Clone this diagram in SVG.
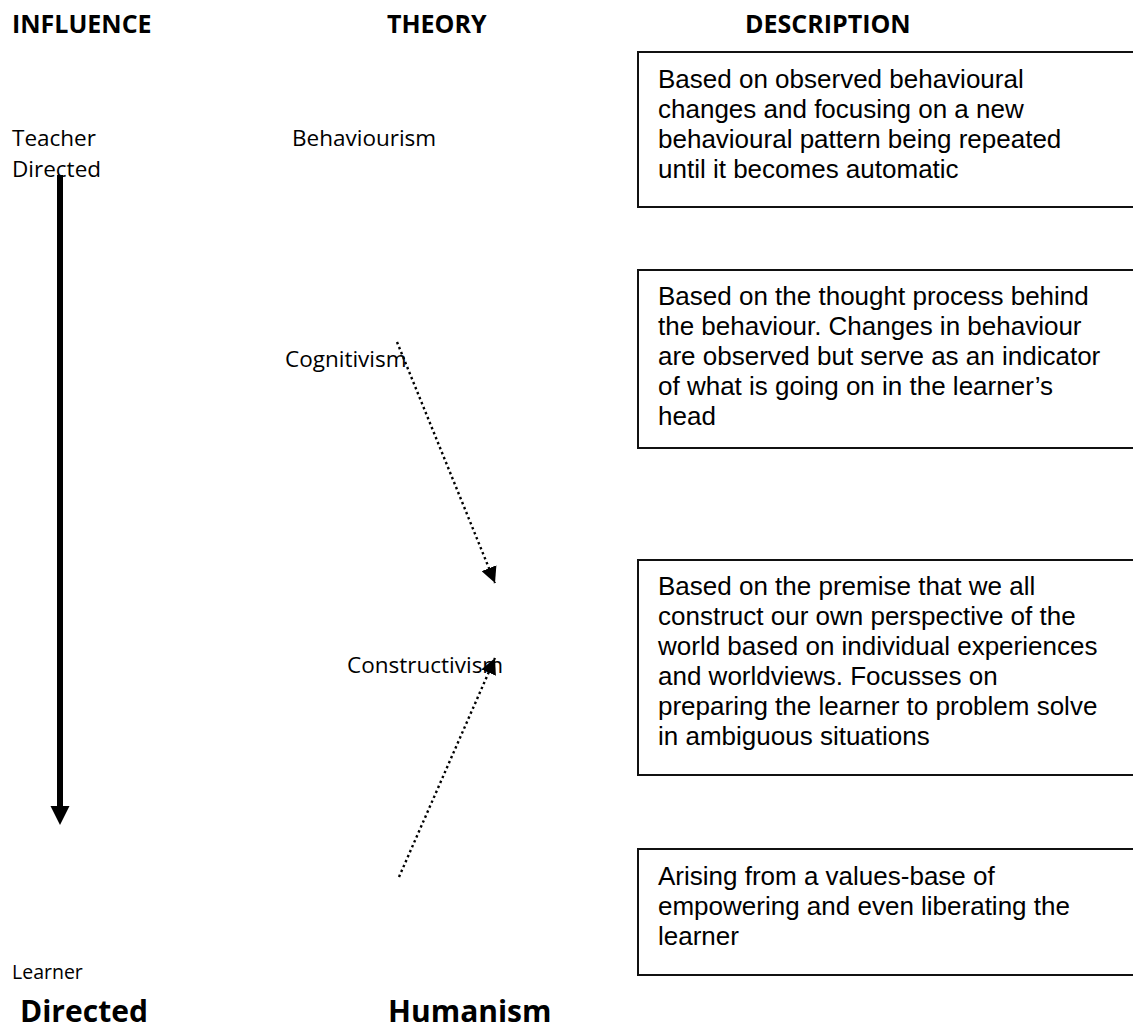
<svg xmlns="http://www.w3.org/2000/svg" width="1133" height="1031" viewBox="0 0 1133 1031">
  <style>
    .head { font-family: "Open Sans", "Liberation Sans", sans-serif; font-weight: bold; font-size: 25px; fill: #000; }
    .lbl { font-family: "Open Sans", "Liberation Sans", sans-serif; font-size: 22.5px; fill: #000; }
    .small { font-family: "Open Sans", "Liberation Sans", sans-serif; font-size: 19.5px; fill: #000; }
    .big { font-family: "Open Sans", "Liberation Sans", sans-serif; font-weight: bold; font-size: 30px; fill: #000; }
    .box { fill: #fff; stroke: #111; stroke-width: 2; }
    .desc { font-family: "Liberation Sans", Arial, sans-serif; font-size: 26px; fill: #000; }
    .dots { fill: none; stroke: #000; stroke-width: 2.4; stroke-dasharray: 2.4 3; }
    .thick { fill: none; stroke: #000; stroke-width: 6; }
  </style>
  <defs>
    <marker id="tri" markerUnits="userSpaceOnUse" markerWidth="17" markerHeight="16" refX="16" refY="8" orient="auto">
      <path d="M0,0 L16,8 L0,16 z" fill="#000"/>
    </marker>
    <marker id="bigTri" markerUnits="userSpaceOnUse" markerWidth="20" markerHeight="20" refX="1" refY="9.5" orient="auto">
      <path d="M0,0 L19,9.5 L0,19 z" fill="#000"/>
    </marker>
  </defs>
  <rect width="1133" height="1031" fill="#fff"/>

  <!-- column headings -->
  <g id="headings">
    <text class="head" x="12" y="33">INFLUENCE</text>
    <text class="head" x="387" y="33">THEORY</text>
    <text class="head" x="745" y="33">DESCRIPTION</text>
  </g>

  <!-- influence scale -->
  <g id="teacher-directed">
    <text class="lbl" x="12" y="146">Teacher</text>
    <text class="lbl" x="12" y="177">Directed</text>
  </g>
  <g id="learner-directed">
    <text class="small" x="12" y="979">Learner</text>
    <text class="big" x="20" y="1022">Directed</text>
  </g>

  <!-- theories -->
  <g id="behaviourism"><text class="lbl" x="292" y="146">Behaviourism</text></g>
  <g id="cognitivism"><text class="lbl" x="285" y="367">Cognitivism</text></g>
  <g id="constructivism"><text class="lbl" x="347" y="673">Constructivism</text></g>
  <g id="humanism"><text class="big" x="388" y="1022">Humanism</text></g>

  <!-- descriptions -->
  <g id="desc-behaviourism">
    <rect class="box" x="638" y="52" width="510" height="155"/>
    <text class="desc" x="658" y="88">Based on observed behavioural</text>
    <text class="desc" x="658" y="118">changes and focusing on a new</text>
    <text class="desc" x="658" y="148">behavioural pattern being repeated</text>
    <text class="desc" x="658" y="178">until it becomes automatic</text>
  </g>
  <g id="desc-cognitivism">
    <rect class="box" x="638" y="270" width="510" height="178"/>
    <text class="desc" x="658" y="305">Based on the thought process behind</text>
    <text class="desc" x="658" y="335">the behaviour. Changes in behaviour</text>
    <text class="desc" x="658" y="365">are observed but serve as an indicator</text>
    <text class="desc" x="658" y="395">of what is going on in the learner’s</text>
    <text class="desc" x="658" y="425">head</text>
  </g>
  <g id="desc-constructivism">
    <rect class="box" x="638" y="560" width="510" height="215"/>
    <text class="desc" x="658" y="595">Based on the premise that we all</text>
    <text class="desc" x="658" y="625">construct our own perspective of the</text>
    <text class="desc" x="658" y="655">world based on individual experiences</text>
    <text class="desc" x="658" y="685">and worldviews. Focusses on</text>
    <text class="desc" x="658" y="715">preparing the learner to problem solve</text>
    <text class="desc" x="658" y="745">in ambiguous situations</text>
  </g>
  <g id="desc-humanism">
    <rect class="box" x="638" y="849" width="510" height="126"/>
    <text class="desc" x="658" y="885">Arising from a values-base of</text>
    <text class="desc" x="658" y="915">empowering and even liberating the</text>
    <text class="desc" x="658" y="945">learner</text>
  </g>

  <!-- connectors -->
  <g id="connectors">
    <line class="thick" x1="60" y1="175" x2="60" y2="807" marker-end="url(#bigTri)"/>
    <line class="dots" x1="397" y1="342" x2="495" y2="583" marker-end="url(#tri)"/>
    <line class="dots" x1="399" y1="877" x2="495" y2="658" marker-end="url(#tri)"/>
  </g>
</svg>
